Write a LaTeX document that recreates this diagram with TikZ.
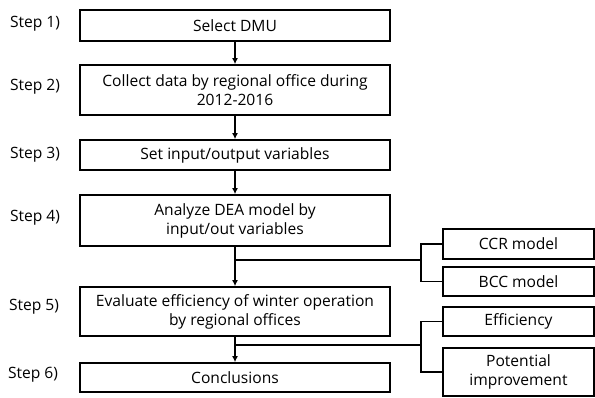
\documentclass[tikz,border=0pt]{standalone}
\usepackage{fontspec}
\setmainfont{Open Sans}
\usetikzlibrary{arrows.meta, positioning}

\begin{document}
\begin{tikzpicture}[x=0.75pt, y=-0.75pt,
    font=\fontsize{11.7}{14.3}\selectfont,
    stepbox/.style={draw, line width=1.3pt, minimum width=232.5pt, align=center, inner sep=1pt},
    sidebox/.style={draw, line width=1.3pt, minimum width=113.25pt, align=center, inner sep=1pt},
    steplabel/.style={anchor=center},
    arrow/.style={-{Latex[length=4.5pt, width=4.5pt]}, line width=1pt},
    link/.style={line width=1pt}]
      \useasboundingbox (0,0) rectangle (595,397);

      % Main flow boxes
      \node[stepbox, minimum height=23.25pt] (dmu)  at (235,25.5)  {Select DMU};
      \node[stepbox, minimum height=37.5pt]  (data) at (235,90)    {Collect data by regional office during\\2012-2016};
      \node[stepbox, minimum height=22.5pt]  (vars) at (235,155)   {Set input/output variables};
      \node[stepbox, minimum height=38.25pt] (dea)  at (235,220.5) {Analyze DEA model by\\input/out variables};
      \node[stepbox, minimum height=36.75pt] (eval) at (235,311.5) {Evaluate efficiency of winter operation\\by regional offices};
      \node[stepbox, minimum height=21.75pt] (conc) at (235,377.5) {Conclusions};

      % Step labels on the left
      \node[steplabel] (s1) at (35,24)  {Step 1)};
      \node[steplabel] (s2) at (35,87)  {Step 2)};
      \node[steplabel] (s3) at (35,155) {Step 3)};
      \node[steplabel] (s4) at (35,218) {Step 4)};
      \node[steplabel] (s5) at (34,307) {Step 5)};
      \node[steplabel] (s6) at (33,375) {Step 6)};

      % Side boxes for models and results
      \node[sidebox, minimum height=22.5pt]  (ccr) at (518.5,244)   {CCR model};
      \node[sidebox, minimum height=21.75pt] (bcc) at (518.5,281.5) {BCC model};
      \node[sidebox, minimum height=21.75pt] (eff) at (518.5,321.5) {Efficiency};
      \node[sidebox, minimum height=36pt]    (pot) at (518.5,372)   {Potential\\improvement};

      % Arrows between steps
      \draw[arrow] (dmu)  -- (data);
      \draw[arrow] (data) -- (vars);
      \draw[arrow] (vars) -- (dea);
      \draw[arrow] (dea)  -- (eval);
      \draw[arrow] (eval) -- (conc);

      % Branches to the side boxes
      \coordinate (j1) at (421,260);
      \coordinate (j2) at (421,345);
      \draw[link] (dea.south |- j1) -- (j1);
      \draw[link] (ccr.west) -| (j1) |- (bcc.west);
      \draw[link] (eval.south |- j2) -- (j2);
      \draw[link] (eff.west) -| (j2) |- (pot.west);
\end{tikzpicture}
\end{document}
